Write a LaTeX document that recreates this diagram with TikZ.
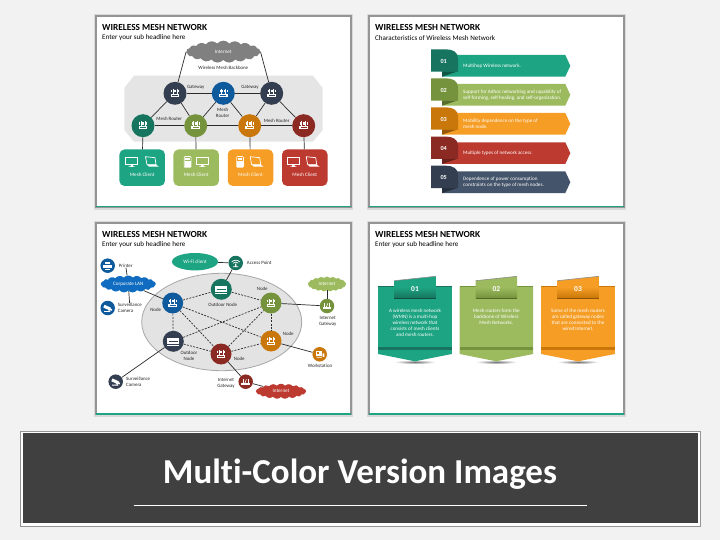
\documentclass[tikz,border=0pt]{standalone}
\usepackage{fontspec}
\setmainfont[Ligatures=NoCommon]{Carlito}
\usetikzlibrary{shapes,arrows,backgrounds,positioning}

\definecolor{pageBg}{HTML}{F2F2F2}
\definecolor{frameGray}{HTML}{959595}
\definecolor{teal}{HTML}{1DA482}
\definecolor{tealD}{HTML}{17745E}
\definecolor{olive}{HTML}{9CBB5F}
\definecolor{oliveD}{HTML}{75933C}
\definecolor{amber}{HTML}{F59D24}
\definecolor{amberD}{HTML}{C9770A}
\definecolor{brick}{HTML}{BC3A30}
\definecolor{brickD}{HTML}{8A2A22}
\definecolor{slate}{HTML}{44546A}
\definecolor{slateD}{HTML}{333F50}
\definecolor{navyB}{HTML}{0F5A9C}
\definecolor{lanB}{HTML}{0F6CC0}
\definecolor{wireC}{HTML}{2B2B2B}
\definecolor{inkC}{HTML}{262626}

\tikzset{
	pics/router/.style={code={
		\fill[white] (-4.4,0.6) rectangle (4.4,3.6);
		\fill[#1] (-3,1.7) rectangle (3,2.5);
		\draw[white, line width=.8pt] (-2,0.6) -- (-2,-4.2) (2,0.6) -- (2,-4.2);
		\draw[white, line width=.5pt] (-3.5,-3.4) to [bend right=30] (-3.5,-0.8) (-0.6,-3.4) to [bend left=30] (-0.6,-0.8);
		\draw[white, line width=.5pt] (3.5,-3.4) to [bend left=30] (3.5,-0.8) (0.6,-3.4) to [bend right=30] (0.6,-0.8);
	}},
	pics/rack/.style={code={
		\fill[white] (-6,-3) rectangle (6,3);
		\fill[#1] (-4.5,-0.3) rectangle (4.5,0.5);
		\draw[white, line width=.6pt] (-6,4.2) -- (6,4.2);
	}},
	pics/monitor/.style={code={
		\draw[white, line width=.7pt] (-6,-4.5) rectangle (6,3);
		\fill[white] (-1.2,3) rectangle (1.2,4.6) (-3,4.6) rectangle (3,5.2);
	}},
	pics/laptop/.style={code={
		\draw[white, line width=.7pt] (-5.5,-5) -- (4,-4) -- (5,3) -- (-4,3) -- cycle;
		\fill[white] (-4,3) -- (5,3) -- (8,5) -- (-2,5) -- cycle;
	}},
	pics/phone/.style={code={
		\draw[white, line width=.7pt, rounded corners=.8pt] (-3.4,-5.4) rectangle (3.4,5.4);
		\fill[white] (-3,-1) rectangle (3,5.2);
		\fill[white] (-2.4,-4.4) rectangle (2.4,-2);
	}},
	pics/printer/.style={code={
		\fill[white] (-2.6,-4) rectangle (2.6,-1.4);
		\fill[white] (-4.4,-1) rectangle (4.4,2.6);
		\fill[white] (-2.6,3) rectangle (2.6,4.2);
	}},
	pics/camera/.style={code={
		\fill[white, rotate=-25] (-4.2,-1.6) rectangle (2.8,1.4);
		\fill[white, rotate=-25] (2.8,-0.8) rectangle (4.6,1);
		\draw[white, line width=.8pt] (0.6,1.2) -- (2,3.4) -- (-3.6,3.4);
	}},
	pics/wifi/.style={code={
		\draw[white, line width=.7pt] (-4,-1) to [bend left=50] (4,-1);
		\draw[white, line width=.7pt] (-2.6,0.2) to [bend left=50] (2.6,0.2);
		\fill[white] (-0.7,0.6) rectangle (0.7,3.4) (-2.6,3.4) rectangle (2.6,4.2);
	}},
	pics/desk/.style={code={
		\fill[white] (-4.2,-3.4) rectangle (2.2,2);
		\fill[#1] (-3,-2.2) rectangle (-0.4,-0.8);
		\fill[white] (2.8,-1) rectangle (4.6,2.6) (-3,2.6) rectangle (2.2,3.4);
	}},
	pics/aerial/.style={code={
		\fill[white] (-4.4,1.4) rectangle (4.4,3);
		\draw[white, line width=.6pt] (-2.6,1.4) -- (-2.6,-2.6) (2.6,1.4) -- (2.6,-2.6);
		\draw[white, line width=.6pt] (-0.7,1.4) -- (0.7,-2.6);
	}}
}

\begin{document}
\begin{tikzpicture}[x=1pt,y=-1pt]
	\tikzstyle{Slide}   = [fill=white, draw=frameGray, line width=1.2pt]
	\tikzstyle{Bar}     = [fill=teal]
	\tikzstyle{Title}   = [anchor=west, inner sep=0pt, font=\fontsize{9.3}{11}\selectfont\bfseries, text=black]
	\tikzstyle{Sub}     = [anchor=west, inner sep=0pt, font=\fontsize{7.1}{8}\selectfont, text=black]
	\tikzstyle{Hub}     = [circle, minimum size=23pt, inner sep=0pt]
	\tikzstyle{HubB}    = [circle, minimum size=21pt, inner sep=0pt]
	\tikzstyle{HubS}    = [circle, minimum size=14.5pt, inner sep=0pt]
	\tikzstyle{Client}  = [rounded corners=5pt, minimum width=45.5pt, minimum height=36.5pt, inner sep=0pt]
	\tikzstyle{Small}   = [align=center, inner sep=0pt, text=inkC, font=\fontsize{4.9}{6}\selectfont]
	\tikzstyle{SmallL}  = [Small, align=left, anchor=west]
	\tikzstyle{OnFill}  = [align=center, inner sep=0pt, text=white, font=\fontsize{5.1}{6.1}\selectfont]
	\tikzstyle{Puff}    = [cloud, cloud puffs=19, cloud puff arc=100, aspect=3.4, inner sep=0pt, text=white, font=\fontsize{5.1}{6}\selectfont]
	\tikzstyle{Wire}    = [draw=wireC, line width=.7pt]
	\tikzstyle{Mesh}    = [draw=wireC, line width=.7pt, dash pattern=on 2pt off 1.3pt]

	% page and slide frames
	\fill[pageBg] (0,0) rectangle (720,540);
	\foreach \sx/\sy/\tname in {96/16/s1, 369/16/s2, 96/223/s3, 369/223/s4} {
		\fill[gray!30] (\sx-2,\sy-2) rectangle (\sx+257,\sy+194);
		\node (\tname) at (\sx+127.5,\sy+95.5) [Slide, minimum width=255pt, minimum height=191pt, inner sep=0pt] {};
		\fill[Bar] (\sx,\sy+190) rectangle (\sx+255,\sy+191.5);
	}
	\node (t1) at (102,27) [Title] {WIRELESS MESH NETWORK};
	\node (h1) at (102,38) [Sub] {Enter your sub headline here};
	\node (t2) at (375,27) [Title] {WIRELESS MESH NETWORK};
	\node (h2) at (375,38) [Sub] {Characteristics of Wireless Mesh Network};
	\node (t3) at (102,234) [Title] {WIRELESS MESH NETWORK};
	\node (h3) at (102,245) [Sub] {Enter your sub headline here};
	\node (t4) at (375,234) [Title] {WIRELESS MESH NETWORK};
	\node (h4) at (375,245) [Sub] {Enter your sub headline here};

	% first slide
	\fill[black!10] (134,75.7) -- (313,75.7) -- (322.7,88) -- (322.7,130) -- (313,141.7) -- (134,141.7) -- (124.3,130) -- (124.3,88) -- cycle;
	\node (inet) at (223.3,51.7) [Puff, fill=black!50, minimum width=74pt, minimum height=22pt] {Internet};
	\node (gw1) at (175,93.3) [Hub, fill=slateD] {};
	\node (gw0) at (223.3,93.3) [Hub, fill=navyB] {};
	\node (gw2) at (271.7,93.3) [Hub, fill=slateD] {};
	\node (rt1) at (143,125.7) [Hub, fill=tealD] {};
	\node (rt2) at (195.7,125.7) [Hub, fill=oliveD] {};
	\node (rt3) at (249.7,125.7) [Hub, fill=amberD] {};
	\node (rt4) at (303.7,125.7) [Hub, fill=brickD] {};
	\node (mc1) at (142.2,167.7) [Client, fill=teal] {};
	\node (mc2) at (196.2,167.7) [Client, fill=olive] {};
	\node (mc3) at (250.5,167.7) [Client, fill=amber] {};
	\node (mc4) at (304.8,167.7) [Client, fill=brick] {};

	\draw [-] (gw1) to (inet.west) [Wire];
	\draw [-] (gw2) to (inet.east) [Wire];
	\draw [-] (gw1) to (gw0) [Wire];
	\draw [-] (gw0) to (gw2) [Wire];
	\draw [-] (gw1) to (rt1) [Wire];
	\draw [-] (gw1) to (rt2) [Wire];
	\draw [-] (gw0) to (rt2) [Wire];
	\draw [-] (gw0) to (rt3) [Wire];
	\draw [-] (gw2) to (rt3) [Wire];
	\draw [-] (gw2) to (rt4) [Wire];
	\draw [-] (rt1) to (rt2) [Wire];
	\draw [-] (rt2) to (rt3) [Wire];
	\draw [-] (rt3) to (rt4) [Wire];
	\foreach \i in {1,2,3,4} {
		\draw [-] (rt\i) to (mc\i) [Wire];
	}
	\pic at (gw1) {router=slateD};
	\pic at (gw0) {router=navyB};
	\pic at (gw2) {router=slateD};
	\pic at (rt1) {router=tealD};
	\pic at (rt2) {router=oliveD};
	\pic at (rt3) {router=amberD};
	\pic at (rt4) {router=brickD};
	\pic at (131.7,161.7) {monitor};
	\pic at (151,161.7) {laptop};
	\pic at (187.7,162) {phone};
	\pic at (202.3,161.7) {monitor};
	\pic at (240,162) {phone};
	\pic at (255.7,161.7) {laptop};
	\pic at (293.3,161.7) {monitor};
	\pic at (311.7,161.7) {laptop};
	\node (lc1) at (142.2,174.5) [OnFill] {Mesh Client};
	\node (lc2) at (196.2,174.5) [OnFill] {Mesh Client};
	\node (lc3) at (250.5,174.5) [OnFill] {Mesh Client};
	\node (lc4) at (304.8,174.5) [OnFill] {Mesh Client};
	\node (lb) at (223.3,68) [Small] {Wireless Mesh Backbone};
	\node (lg1) at (195.7,87.7) [Small] {Gateway};
	\node (lg2) at (250,87.7) [Small] {Gateway};
	\node (lm) at (222.7,113) [Small] {Mesh\\Router};
	\node (lr1) at (169.3,119.3) [Small] {Mesh Router};
	\node (lr2) at (276.7,121.3) [Small] {Mesh Router};

	% second slide
	\foreach \yy/\colA/\colB/\num/\txt in {
		49.3/teal/tealD/01/{Multihop Wireless network.},
		78.3/olive/oliveD/02/{Support for Adhoc networking and capability of\\self-forming, self-healing, and self-organization.},
		107.3/amber/amberD/03/{Mobility dependence on the type of\\mesh node.},
		136.6/brick/brickD/04/{Multiple types of network access.},
		165.7/slate/slateD/05/{Dependence of power consumption\\constraints on the type of mesh nodes.}} {
		\fill[\colA] (442,\yy+5.7) -- (565.3,\yy+5.7) -- (570.3,\yy+16.5) -- (565.3,\yy+27.4) -- (442,\yy+27.4) -- cycle;
		\fill[\colB!75!black] (442,\yy+22) -- (458,\yy+22) -- (442,\yy+27.4) -- cycle;
		\fill[\colB] (431,\yy) -- (446,\yy) .. controls (453,\yy) and (458,\yy+3) .. (458,\yy+9) -- (458,\yy+22.4) -- (431,\yy+22.4) -- cycle;
		\node (n\num) at (443.7,\yy+11.7) [OnFill, font=\fontsize{6.2}{7}\selectfont\bfseries] {\num};
		\node (r\num) at (463,\yy+16.7) [OnFill, anchor=west, align=left] {\txt};
	}

	% third slide
	\node (cell) at (221.7,322) [ellipse, draw=black!35, line width=.8pt, fill=black!11, minimum width=160pt, minimum height=97.4pt, inner sep=0pt] {};
	\node (wc) at (195,261.7) [ellipse, fill=teal, minimum width=46pt, minimum height=17.4pt, inner sep=0pt, text=white, font=\fontsize{5.1}{6}\selectfont] {Wi-Fi client};
	\node (ap) at (235.7,263) [HubS, fill=tealD] {};
	\node (prn) at (107.7,265.7) [HubS, fill=navyB] {};
	\node (lan) at (128.3,284) [Puff, fill=lanB, minimum width=55pt, minimum height=17pt] {Corporate LAN};
	\node (cam1) at (107.7,308) [HubS, fill=navyB] {};
	\node (cam2) at (115.7,381.7) [HubS, fill=slateD] {};
	\node (gb) at (245.7,381.7) [HubS, fill=brickD] {};
	\node (ib) at (281,391.3) [Puff, fill=brick, minimum width=50pt, minimum height=15pt] {Internet};
	\node (ws) at (319.7,354.3) [HubS, fill=amberD] {};
	\node (gr) at (327,306) [HubS, fill=oliveD] {};
	\node (ir) at (327,284) [Puff, fill=olive, minimum width=38pt, minimum height=15pt] {Internet};
	\node (nd1) at (172.7,303) [HubB, fill=navyB] {};
	\node (nd2) at (221.3,289.3) [HubB, fill=tealD] {};
	\node (nd3) at (271,303) [HubB, fill=oliveD] {};
	\node (nd4) at (173.3,341.3) [HubB, fill=slateD] {};
	\node (nd5) at (221,354) [HubB, fill=brickD] {};
	\node (nd6) at (271,341) [HubB, fill=amberD] {};
	\node (lprn) at (125.7,265.7) [Small] {Printer};
	\node (lcam1) at (117.7,307.8) [SmallL] {Surveillance\\Camera};
	\node (lcam2) at (126,382) [SmallL] {Surveillance\\Camera};

	\draw [-] (nd1) to (nd2) [Mesh];
	\draw [-] (nd2) to (nd3) [Mesh];
	\draw [-] (nd1) to (nd4) [Mesh];
	\draw [-] (nd1) to (nd6) [Mesh];
	\draw [-] (nd1) to (nd5) [Mesh];
	\draw [-] (nd4) to (nd3) [Mesh];
	\draw [-] (nd4) to (nd5) [Mesh];
	\draw [-] (nd5) to (nd3) [Mesh];
	\draw [-] (nd5) to (nd6) [Mesh];
	\draw [-] (nd3) to (nd6) [Mesh];
	\draw [-] (wc) to (ap) [Wire];
	\draw [-] (ap) to (nd2) [Wire];
	\draw [-] (lprn) to (lan) [Wire];
	\draw [-] (lcam1) to (lan) [Wire];
	\draw [-] (lan) to (nd1) [Wire];
	\draw [-] (nd4) to (cam2) [Wire];
	\draw [-] (nd5) to (gb) [Wire];
	\draw [-] (gb) to (ib) [Wire];
	\draw [-] (nd6) to (ws) [Wire];
	\draw [-] (nd3) to (gr) [Wire];
	\draw [-] (gr) to (ir) [Wire];

	\pic at (nd1) {router=navyB};
	\pic at (nd2) {rack=tealD};
	\pic at (nd3) {router=oliveD};
	\pic at (nd4) {rack=slateD};
	\pic at (nd5) {router=brickD};
	\pic at (nd6) {router=amberD};
	\pic at (ap) {wifi};
	\pic at (prn) {printer};
	\pic at (cam1) {camera};
	\pic at (cam2) {camera};
	\pic at (gb) {aerial};
	\pic at (gr) {aerial};
	\pic at (ws) {desk=amberD};
	\node (la) at (259.3,263) [Small] {Access Point};
	\node (ln1) at (155.7,310) [Small] {Node};
	\node (ln2) at (222.7,305) [Small] {Outdoor Node};
	\node (ln3) at (262.3,288.7) [Small] {Node};
	\node (ln4) at (288.3,333.7) [Small] {Node};
	\node (ln5) at (239.3,358.7) [Small] {Node};
	\node (ln6) at (189,356.3) [Small] {Outdoor\\Node};
	\node (lgr) at (327.7,321) [Small] {Internet\\Gateway};
	\node (lws) at (320,366.3) [Small] {Workstation};
	\node (lgb) at (226,383) [Small] {Internet\\Gateway};

	% fourth slide
	\foreach \cx/\colA/\colB/\num/\txt in {
		415/teal/tealD/01/{A wireless mesh network\\(WMN) is a multi-hop\\wireless network that\\consists of mesh clients\\and mesh routers.},
		496.3/olive/oliveD/02/{Mesh routers form the\\backbone of Wireless\\Mesh Networks.},
		578/amber/amberD/03/{Some of the mesh routers\\are called gateway nodes\\that are connected to the\\wired Internet.}} {
		\shade[inner color=black!55, outer color=white] (\cx,362) ellipse (21pt and 2pt);
		\fill[\colA] (\cx-36.8,286.3) -- (\cx+36.8,286.3) -- (\cx+36.8,354) -- (\cx,361.3) -- (\cx-36.8,354) -- cycle;
		\draw[\colB, line width=.5pt] (\cx-36.8,286.3) -- (\cx+36.8,286.3);
		\fill[\colB] (\cx-36.8,347) rectangle (\cx+36.8,350.3);
		\shade[top color=\colA, bottom color=\colB, middle color=\colA] (\cx-20.7,280.7) -- (\cx+20.9,276.3) -- (\cx+20.9,298) -- (\cx-20.7,298) -- cycle;
		\draw[black!45, line width=.6pt] (\cx-20.7,280.7) -- (\cx+20.9,276.3);
		\fill[\colB!70!black] (\cx-20.7,297.6) rectangle (\cx+20.9,298.2);
		\node (cn\num) at (\cx,288.7) [OnFill, font=\fontsize{7.5}{9}\selectfont\bfseries] {\num};
		\node (ct\num) at (\cx,308.3) [OnFill, anchor=north] {\txt};
	}

	% banner
	\fill[white, draw=frameGray, line width=.9pt] (20,431) rectangle (700,526);
	\node (banner) at (360.5,478.3) [rectangle, fill=black!75, minimum width=675pt, minimum height=90pt, inner sep=0pt] {};
	\node (bt) at (360,474) [text=white, inner sep=0pt, font=\fontsize{35}{40}\selectfont\bfseries] {Multi-Color Version Images};
	\coordinate (bl) at (133.5,505);
	\coordinate (br) at (586.5,505);
	\draw [-] (bl) to (br) [white, line width=.7pt];

	\useasboundingbox (0,0) rectangle (720,540);
\end{tikzpicture}
\end{document}
